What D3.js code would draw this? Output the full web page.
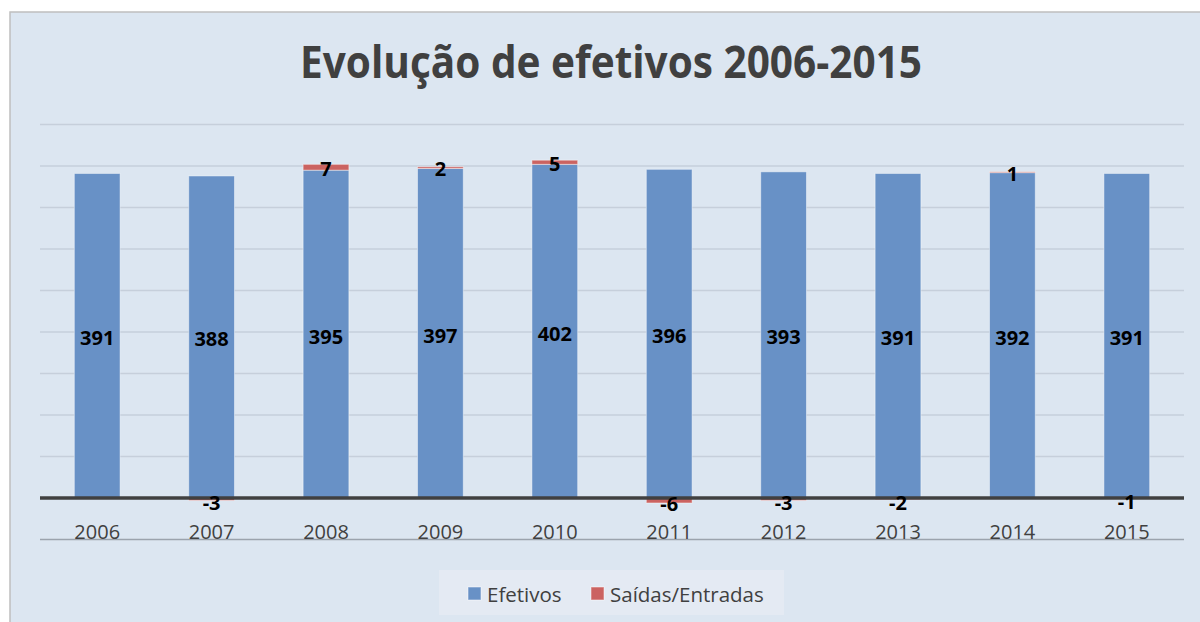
<!DOCTYPE html>
<html><head><meta charset="utf-8">
<script src="https://cdn.jsdelivr.net/npm/d3@7"></script>
<style>html,body{margin:0;padding:0;background:#fff;}svg{display:block;}</style>
</head><body>
<svg id="c" width="1200" height="622"></svg>
<script>
const years = ["2006","2007","2008","2009","2010","2011","2012","2013","2014","2015"];
const efetivos = [391,388,395,397,402,396,393,391,392,391];
const saidasEntradas = [null,-3,7,2,5,-6,-3,-2,1,-1];
const seriesNames = ["Efetivos","Saídas/Entradas"];
const yTicks = [-50,0,50,100,150,200,250,300,350,400,450];
const titleText = "Evolução de efetivos 2006-2015";

const colors = {"Efetivos":"#6891c6","Saídas/Entradas":"#cb6361"};
const svg = d3.select("#c");
const font = "'Open Sans', sans-serif";

// chart background
svg.append("rect").attr("x",10).attr("y",12).attr("width",1200).attr("height",620)
  .attr("fill","#dce6f1").attr("stroke","#bfbfbf").attr("stroke-width",1.5);

const rows = years.map((y,i)=>({year:y,"Efetivos":efetivos[i],"Saídas/Entradas":saidasEntradas[i]||0}));
const stack = d3.stack().keys(seriesNames).offset(d3.stackOffsetDiverging);
const stacked = stack(rows);

const x = d3.scaleBand().domain(years).range([40,1184]).paddingInner(0.6).paddingOuter(0.3);
const y = d3.scaleLinear().domain([-50,450]).range([539.5,124.5]);

// gridlines
svg.append("g").selectAll("line").data(yTicks.filter(t=>t>0)).join("line")
  .attr("x1",40).attr("x2",1184).attr("y1",d=>y(d)).attr("y2",d=>y(d))
  .attr("stroke","#c6cfdb").attr("stroke-width",1.5);
// -50 line
svg.append("line").attr("x1",40).attr("x2",1184).attr("y1",y(-50)).attr("y2",y(-50))
  .attr("stroke","#9ba3ad").attr("stroke-width",1.5);

// bars
const g = svg.append("g");
stacked.forEach(s=>{
  g.append("g").selectAll("rect").data(s).join("rect")
    .attr("x",d=>x(d.data.year)).attr("width",x.bandwidth())
    .attr("y",d=>y(Math.max(d[0],d[1])))
    .attr("height",d=>Math.abs(y(d[0])-y(d[1])))
    .attr("fill",colors[s.key])
    .attr("stroke","rgba(255,255,255,0.45)").attr("stroke-width",1);
});

// zero line
svg.append("line").attr("x1",40).attr("x2",1184).attr("y1",y(0)).attr("y2",y(0))
  .attr("stroke","#404040").attr("stroke-width",3.5);

// labels
stacked.forEach(s=>{
  svg.append("g").selectAll("text").data(s.filter((d,i)=> s.key==="Efetivos" ? true : saidasEntradas[i]!==null))
    .join("text")
    .attr("x",d=>x(d.data.year)+x.bandwidth()/2)
    .attr("y",d=>y((d[0]+d[1])/2)+ (s.key==="Efetivos"?2:(d.data[s.key]<0?3.5:1)))
    .attr("text-anchor","middle").attr("dominant-baseline","central")
    .attr("font-family",font).attr("font-weight","bold").attr("font-size","20px").attr("fill","#000")
    .text(d=>d.data[s.key]);
});

// x axis labels
const xAxis = d3.axisBottom(x).tickSize(0).tickPadding(0);
const xa = svg.append("g").attr("transform",`translate(0,${y(0)+35})`).call(xAxis);
xa.select(".domain").remove();
xa.selectAll("text").attr("font-family",font).attr("font-size","20px").attr("fill","#404040").attr("dy","0.32em").attr("y",0);

// title
svg.append("text").attr("x",611).attr("y",78).attr("text-anchor","middle")
  .attr("font-family",font).attr("font-weight","bold").attr("font-size","44px").attr("fill","#404040")
  .attr("textLength",622).attr("lengthAdjust","spacingAndGlyphs")
  .text(titleText);

// legend
const lg = svg.append("g");
lg.append("rect").attr("x",439).attr("y",570).attr("width",345).attr("height",45).attr("fill","#e4eaf3");
const legendItems = [{name:seriesNames[0],x:468,tx:487},{name:seriesNames[1],x:591,tx:610}];
legendItems.forEach(it=>{
  lg.append("rect").attr("x",it.x).attr("y",587).attr("width",13).attr("height",13)
    .attr("fill",colors[it.name]).attr("stroke","rgba(255,255,255,0.5)").attr("stroke-width",1);
  lg.append("text").attr("x",it.tx).attr("y",593.5).attr("dominant-baseline","central")
    .attr("font-family",font).attr("font-size","20.5px").attr("fill","#404040").text(it.name);
});
</script>
</body></html>
